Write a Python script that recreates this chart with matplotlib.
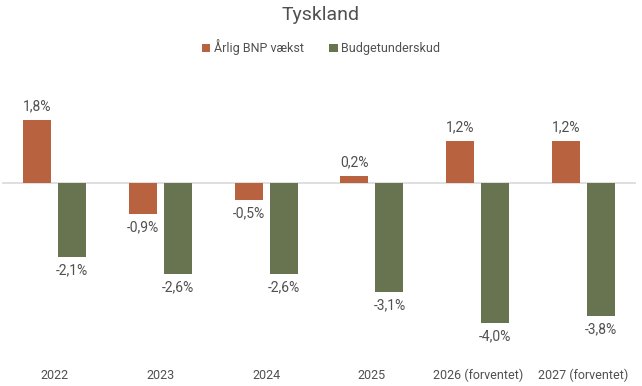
import numpy as np
import matplotlib
matplotlib.use("Agg")
import matplotlib.pyplot as plt

plt.rcParams['font.family'] = ['Roboto', 'DejaVu Sans']

categories = ["2022", "2023", "2024", "2025", "2026 (forventet)", "2027 (forventet)"]
bnp_vaekst = [1.8, -0.9, -0.5, 0.2, 1.2, 1.2]
budgetunderskud = [-2.1, -2.6, -2.6, -3.1, -4.0, -3.8]
series_names = ["Årlig BNP vækst", "Budgetunderskud"]

orange = "#B8623F"
green = "#68744F"
text_col = "#505050"

fig = plt.figure(figsize=(6.42, 3.86), dpi=100)
ax = fig.add_axes([0.003, 0.08, 0.988, 0.674])

x = np.arange(len(categories))
w = 0.265
off = 0.166

b1 = ax.bar(x - off, bnp_vaekst, w, color=orange, label=series_names[0], zorder=2)
b2 = ax.bar(x + off, budgetunderskud, w, color=green, label=series_names[1], zorder=2)

ax.axhline(0, color="#D9D9D9", lw=1.2, zorder=1)

def fmt(v):
    return ("%.1f%%" % v).replace(".", ",")

for bars, vals in ((b1, bnp_vaekst), (b2, budgetunderskud)):
    for bar, v in zip(bars, vals):
        cx = bar.get_x() + bar.get_width() / 2
        if v >= 0:
            ax.annotate(fmt(v), (cx, v), xytext=(0, 4.5), textcoords="offset points",
                        ha="center", va="bottom", fontsize=10, color=text_col)
        else:
            ax.annotate(fmt(v), (cx, v), xytext=(0, -4.5), textcoords="offset points",
                        ha="center", va="top", fontsize=10, color=text_col)

ax.set_xlim(-0.5, len(categories) - 0.5)
ax.set_ylim(-4.9, 2.5)
ax.set_yticks([])
ax.set_xticks(x)
ax.set_xticklabels(categories, fontsize=9, color=text_col)
ax.tick_params(axis="x", length=0, pad=10)
for s in ax.spines.values():
    s.set_visible(False)

fig.suptitle("Tyskland", y=0.985, fontsize=14, color=text_col)
fig.legend(loc="center", bbox_to_anchor=(0.5, 0.877), ncol=2, frameon=False,
           fontsize=9, handlelength=0.7, handleheight=0.7, handletextpad=0.3,
           columnspacing=2.0, labelcolor=text_col)

fig.savefig("out.png", dpi=100)
